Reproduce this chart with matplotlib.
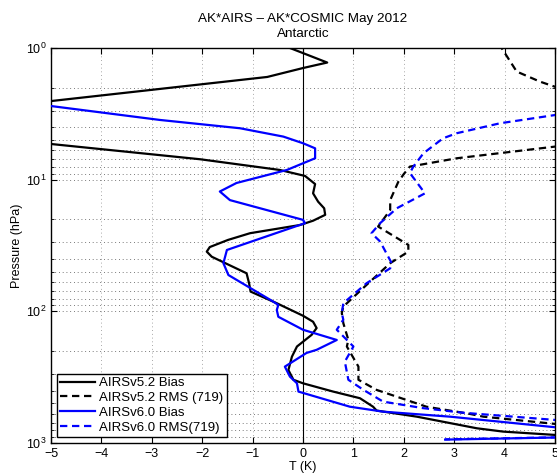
import matplotlib
matplotlib.use("Agg")
import matplotlib.pyplot as plt
from matplotlib.ticker import LogLocator, NullFormatter

plt.rcParams['font.family'] = ['Liberation Sans', 'DejaVu Sans']

# AIRSv5.2 bias (T in K, p in hPa)
v52_bias_t = [-0.26, 0.48, 0.0, -0.71, -5.0, -8.0, -5.0, -2.04, -0.46, 0.04, 0.24, 0.2, 0.3, 0.42,
              0.44, 0.2, -0.06, -1.05, -1.49, -1.85, -1.91, -1.81, -1.12, -1.07, -1.04, -0.52, 0.0,
              0.2, 0.27, 0.17, -0.12, -0.22, -0.29, -0.19, 0.0, 0.6, 1.13, 1.39, 1.46, 2.26, 3.45,
              3.97, 5.0, 7.0]
v52_bias_p = [1.0, 1.29, 1.42, 1.66, 2.53, 3.6, 5.36, 7.0, 8.44, 9.37, 10.8, 12.7, 14.7, 16.5,
              18.5, 20.5, 22.1, 25.5, 28.7, 32.5, 35.2, 38.5, 51.4, 61.2, 70.8, 86.8, 108,
              120, 134, 151, 185, 221, 279, 331, 352, 407, 457, 530, 567, 631, 773,
              819, 868, 960]

# AIRSv5.2 RMS
v52_rms_t = [3.85, 3.94, 4.24, 4.7, 5.0, 8.0, 5.0, 3.05, 2.12, 2.0, 1.89, 1.73, 1.73, 1.49, 2.09,
             2.09, 1.73, 1.26, 0.8, 0.77, 0.8, 0.9, 0.87, 1.1, 1.1, 1.46, 2.45, 3.3, 3.58, 5.0, 7.0]
v52_rms_p = [0.95, 1.0, 1.51, 1.8, 1.97, 3.5, 5.61, 6.88, 7.96, 9.06, 10.4, 14.3, 17.0, 22.7, 31.3,
             35.2, 43.1, 63.0, 92.0, 103, 123, 165, 185, 263, 331, 395, 530, 600, 631, 716, 800]

# AIRSv6.0 bias
v60_bias_t = [-7.0, -5.0, -2.84, -1.25, -0.39, 0.0, 0.24, 0.24, -0.32, -1.32, -1.65, -1.45, 0.0,
              0.04, -1.51, -1.58, -1.48, -0.59, -0.49, -0.52, -0.49, 0.0, 0.67, 0.27, 0.07, -0.36,
              -0.26, -0.12, -0.09, 0.93, 1.59, 2.92, 5.0, 9.0, 2.82]
v60_bias_p = [2.1, 2.76, 3.52, 4.07, 4.71, 5.29, 5.78, 6.88, 8.44, 10.6, 12.3, 14.3, 20.2,
              21.4, 34.2, 43.1, 53.0, 84.4, 89.4, 97.7, 110, 138, 165, 196, 207, 263,
              313, 352, 407, 530, 578, 631, 759, 850, 942]

# AIRSv6.0 RMS
v60_rms_t = [8.0, 5.0, 3.91, 3.05, 2.78, 2.39, 2.19, 2.12, 2.42, 1.86, 1.53, 1.36, 1.53, 1.76,
             1.73, 1.26, 0.8, 0.77, 0.8, 0.67, 1.0, 0.83, 0.9, 1.2, 1.59, 2.39, 3.18, 5.0, 9.0, 2.82]
v60_rms_p = [2.5, 3.23, 3.73, 4.44, 4.85, 6.3, 7.96, 8.9, 12.7, 16.5, 21.4, 25.5, 29.5, 43.1,
             47.1, 61.2, 86.8, 103, 116, 138, 185, 241, 331, 395, 485, 544, 589, 668, 850, 938]

fig = plt.figure(figsize=(5.57, 4.76), dpi=100)
ax = fig.add_axes([0.0916, 0.0693, 0.9048, 0.8299])

ax.axvline(0, color='black', lw=0.8, zorder=2)
ax.plot(v52_bias_t, v52_bias_p, color='black', lw=1.6, label='AIRSv5.2 Bias', zorder=3)
ax.plot(v52_rms_t, v52_rms_p, color='black', lw=1.6, ls='--', dashes=(3.3, 2.1),
        label='AIRSv5.2 RMS (719)', zorder=3)
ax.plot(v60_bias_t, v60_bias_p, color='blue', lw=1.6, label='AIRSv6.0 Bias', zorder=3)
ax.plot(v60_rms_t, v60_rms_p, color='blue', lw=1.6, ls='--', dashes=(3.3, 2.1),
        label='AIRSv6.0 RMS(719)', zorder=3)

ax.set_yscale('log')
ax.set_ylim(1000, 1)
ax.set_xlim(-5, 5)
ax.set_xticks(range(-5, 6))
ax.set_xticklabels(['\u22125', '\u22124', '\u22123', '\u22122', '\u22121', '0', '1', '2', '3', '4', '5'])
ax.yaxis.set_minor_locator(LogLocator(base=10, subs=range(2, 10)))
ax.yaxis.set_minor_formatter(NullFormatter())

# matlab style dotted grid
ax.grid(True, which='major', axis='x', ls=(0, (1, 3.5)), color='0.55', lw=0.6)
ax.grid(True, which='both', axis='y', ls=(0, (1, 3.5)), color='0.3', lw=0.6)
ax.tick_params(which='both', direction='in', top=True, right=True, labelsize=9)
ax.tick_params(which='major', length=4)
ax.tick_params(which='minor', length=2)
for s in ax.spines.values():
    s.set_linewidth(1.0)

ax.set_xlabel('T (K)', fontsize=9, labelpad=1)
ax.set_ylabel('Pressure (hPa)', fontsize=9, labelpad=2)
ax.set_title('AK*AIRS \u2013 AK*COSMIC May 2012\nAntarctic', fontsize=9.7, linespacing=1.3, pad=8)

leg = ax.legend(loc='lower left', bbox_to_anchor=(0.011, 0.015), borderaxespad=0,
                fontsize=9.5, handlelength=2.7, handletextpad=0.3, labelspacing=0.2,
                borderpad=0.25, fancybox=False, framealpha=1, edgecolor='black')
leg.get_frame().set_linewidth(1.0)
leg.set_zorder(5)

fig.savefig('out.png', dpi=100)
